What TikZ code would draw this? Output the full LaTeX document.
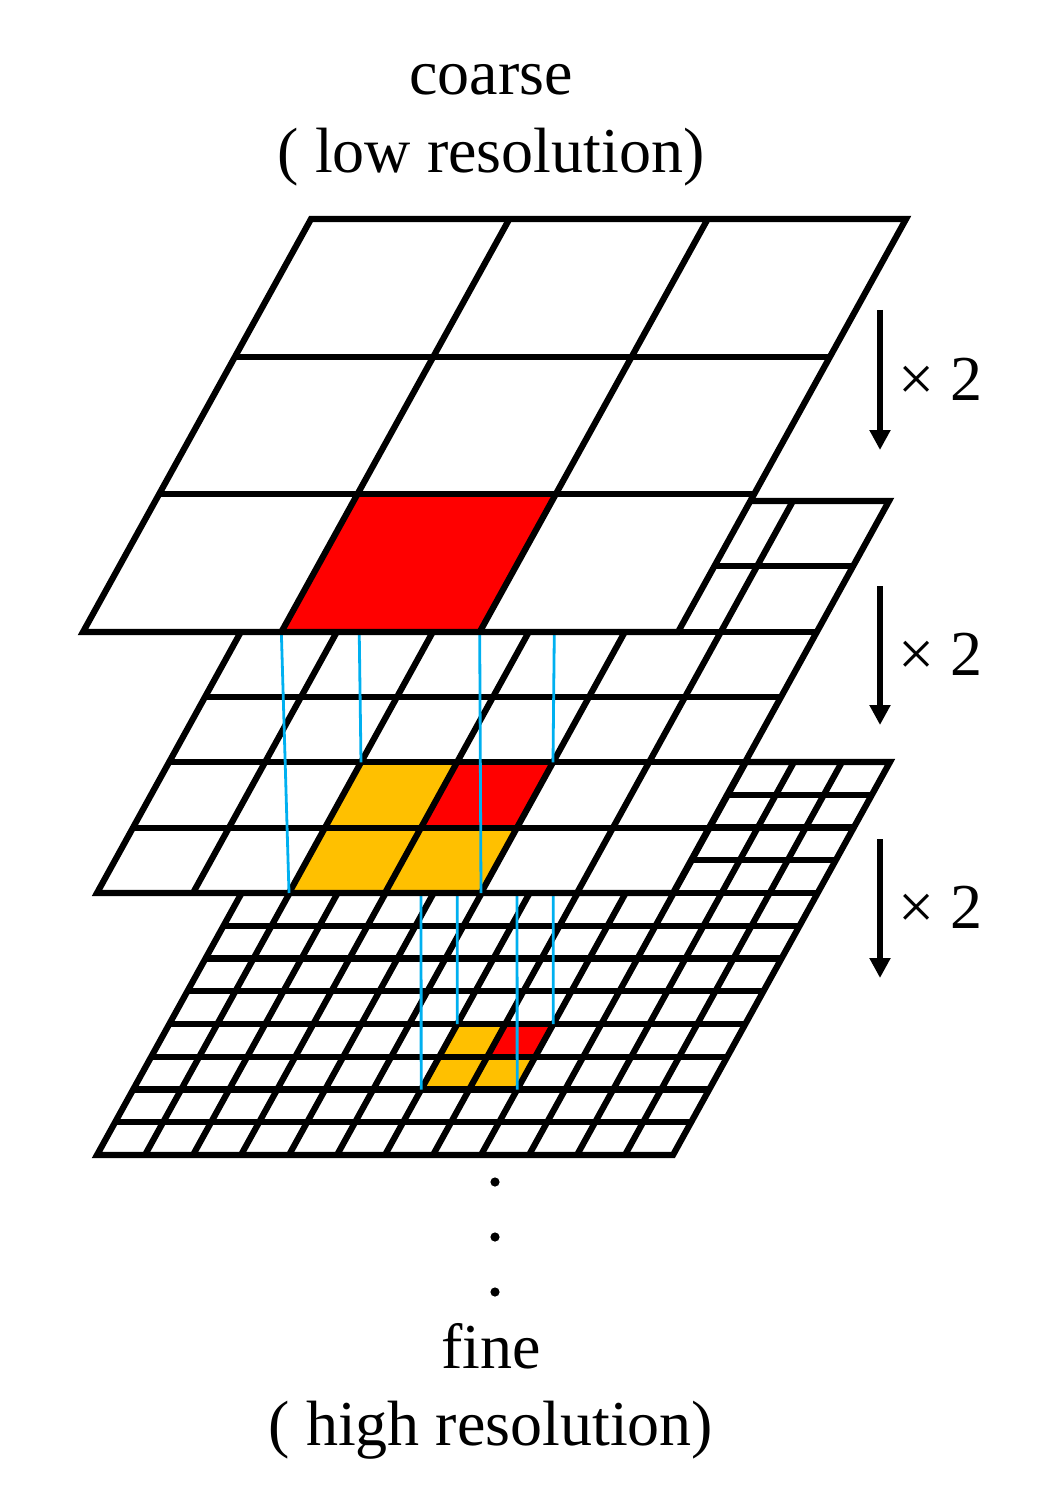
\documentclass[tikz,border=0pt]{standalone}
\usepackage{fontspec}
\setmainfont{Liberation Serif}
\usetikzlibrary{positioning,arrows.meta}
\definecolor{hotred}{RGB}{255,0,0}
\definecolor{warmorange}{RGB}{255,192,0}
\definecolor{linkblue}{RGB}{0,176,240}
\tikzset{%
  gridline/.style={line width=3.1pt,line join=miter},
  hot/.style={fill=hotred},
  warm/.style={fill=warmorange},
  link/.style={draw=linkblue,line width=1.4pt},
  scalearrow/.style={line width=3.25pt,-{Triangle[width=10pt,length=10pt]}},
  lbl/.style={font=\fontsize{32pt}{39pt}\selectfont,inner sep=0pt},
  dot/.style={circle,fill,inner sep=0pt,minimum size=4.6pt},
  layA/.style={shift={(83,632)},x={(99.17pt,0pt)},y={(38pt,68.83pt)}},
  layB/.style={shift={(97,893)},x={(48pt,0pt)},y={(18pt,32.67pt)}},
  layC/.style={shift={(97,1155)},x={(24pt,0pt)},y={(9.04pt,16.375pt)}}
}

\begin{document}
\begin{tikzpicture}[x=0.5pt,y=-0.5pt]
  \useasboundingbox (0,0) rectangle (1055,1508);

  % corners of the marked blocks
  \path[layA] (1,0) coordinate (a-sw) (2,0) coordinate (a-se)
              (1,1) coordinate (a-nw) (2,1) coordinate (a-ne);
  \path[layB] (2,0) coordinate (b-sw) (4,0) coordinate (b-se)
              (2,2) coordinate (b-nw) (4,2) coordinate (b-ne)
              (3,1) coordinate (br-sw) (4,1) coordinate (br-se)
              (3,2) coordinate (br-nw);
  \path[layC] (6,2) coordinate (c-sw) (8,2) coordinate (c-se)
              (6,4) coordinate (c-nw) (8,4) coordinate (c-ne);

  % fine layer
  \begin{scope}[layC]
    \fill[white] (0,0) -- (12,0) -- (12,12) -- (0,12) -- cycle;
    \fill[warm] (6,2) -- (8,2) -- (8,4) -- (6,4) -- cycle;
    \fill[hot] (7,3) -- (8,3) -- (8,4) -- (7,4) -- cycle;
    \foreach \k in {1,...,11} {
      \draw[gridline] (0,\k) -- (12,\k);
      \draw[gridline] (\k,0) -- (\k,12);
    }
    \draw[gridline] (0,0) -- (12,0) -- (12,12) -- (0,12) -- cycle;
  \end{scope}

  \draw[link] (br-sw) -- (c-sw);
  \draw[link] (br-nw) -- (c-nw);
  \draw[link] (br-se) -- (c-se);
  \draw[link] (b-ne) -- (c-ne);

  % middle layer
  \begin{scope}[layB]
    \fill[white] (0,0) -- (6,0) -- (6,6) -- (0,6) -- cycle;
    \fill[warm] (2,0) -- (4,0) -- (4,2) -- (2,2) -- cycle;
    \fill[hot] (3,1) -- (4,1) -- (4,2) -- (3,2) -- cycle;
    \foreach \k in {1,...,5} {
      \draw[gridline] (0,\k) -- (6,\k);
      \draw[gridline] (\k,0) -- (\k,6);
    }
    \draw[gridline] (0,0) -- (6,0) -- (6,6) -- (0,6) -- cycle;
  \end{scope}

  \draw[link] (a-sw) -- (b-sw);
  \draw[link] (a-nw) -- (b-nw);
  \draw[link] (a-se) -- (b-se);
  \draw[link] (a-ne) -- (b-ne);

  % coarse layer
  \begin{scope}[layA]
    \fill[white] (0,0) -- (3,0) -- (3,3) -- (0,3) -- cycle;
    \fill[hot] (1,0) -- (2,0) -- (2,1) -- (1,1) -- cycle;
    \foreach \k in {1,2} {
      \draw[gridline] (0,\k) -- (3,\k);
      \draw[gridline] (\k,0) -- (\k,3);
    }
    \draw[gridline] (0,0) -- (3,0) -- (3,3) -- (0,3) -- cycle;
  \end{scope}

  % scale steps
  \foreach \i/\top/\bot in {1/310/450,2/586/725,3/839/978} {
    \coordinate (s\i) at (880,\top);
    \coordinate (e\i) at (880,\bot);
    \draw[scalearrow] (s\i) -- (e\i);
    \node[lbl,anchor=base west] (x\i) at (898,\bot-50) {× 2};
  }

  \node[lbl,anchor=base] (coarse) at (491,95) {coarse};
  \node[lbl,anchor=base] (lowres) at (491,173) {( low resolution)};

  \foreach \i/\y in {1/1182,2/1237,3/1292}
    \node[dot] (d\i) at (495,\y) {};

  \node[lbl,anchor=base] (fine) at (491,1368) {fine};
  \node[lbl,anchor=base] (highres) at (491,1445) {( high resolution)};
\end{tikzpicture}
\end{document}
